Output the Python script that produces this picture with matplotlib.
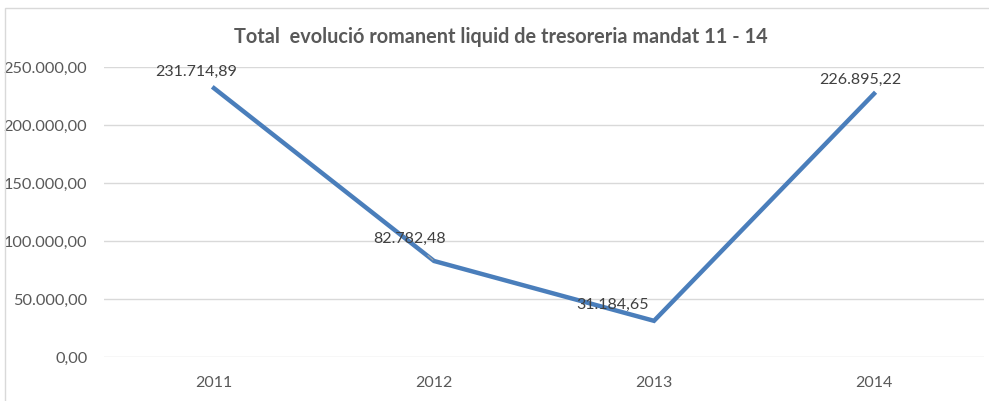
import matplotlib
matplotlib.use('Agg')
from matplotlib import pyplot as plt
from matplotlib.patches import Rectangle

years = ['2011', '2012', '2013', '2014']
values = [231714.89, 82782.48, 31184.65, 226895.22]
labels = ['231.714,89', '82.782,48', '31.184,65', '226.895,22']
y_ticks = [0, 50000, 100000, 150000, 200000, 250000]
y_tick_labels = ['0,00', '50.000,00', '100.000,00', '150.000,00', '200.000,00', '250.000,00']

plt.rcParams['font.family'] = ['Lato', 'DejaVu Sans']
text_color = '#595959'

fig = plt.figure(figsize=(9.89, 4.01), dpi=100)
ax = fig.add_axes([104 / 989, 44 / 401, 880 / 989, 290 / 401])

x = list(range(len(years)))
ax.plot(x, values, color='#4A7EBB', linewidth=3.2, solid_joinstyle='miter')

# data labels, placed roughly as in the original
offsets = [(-18, 16), (-24, 22), (-41, 16), (-14, 14)]
for i, (v, lab) in enumerate(zip(values, labels)):
    if i == 1:
        ax.annotate(lab, (x[i], v), xytext=offsets[i], textcoords='offset pixels',
                    ha='center', va='center', fontsize=11.5, color='#404040',
                    arrowprops=dict(arrowstyle='-', color='#A6A6A6', lw=0.8,
                                    shrinkA=7, shrinkB=1))
    else:
        ax.annotate(lab, (x[i], v), xytext=offsets[i], textcoords='offset pixels',
                    ha='center', va='center', fontsize=11.5, color='#404040')

ax.set_xlim(-0.5, len(years) - 0.5)
ax.set_ylim(0, 250000)
ax.set_xticks(x)
ax.set_xticklabels(years)
ax.set_yticks(y_ticks)
ax.set_yticklabels(y_tick_labels)
ax.tick_params(axis='both', length=0, colors=text_color)
ax.tick_params(axis='y', labelsize=11.8, pad=12)
ax.tick_params(axis='x', labelsize=11.5, pad=14)
ax.grid(axis='y', color='#D9D9D9', linewidth=1)
ax.set_axisbelow(True)
for s in ax.spines.values():
    s.set_visible(False)

fig.text(501 / 989, 1 - 37 / 401, 'Total  evolució romanent liquid de tresoreria mandat 11 - 14',
         ha='center', va='center', fontsize=14.3, fontweight='bold', color=text_color)

fig.add_artist(Rectangle((5 / 989, -0.05), 1.1, 1 - 8 / 401 + 0.05, transform=fig.transFigure,
                         fill=False, edgecolor='#D9D9D9', linewidth=1))

fig.savefig('out.png', dpi=100)
